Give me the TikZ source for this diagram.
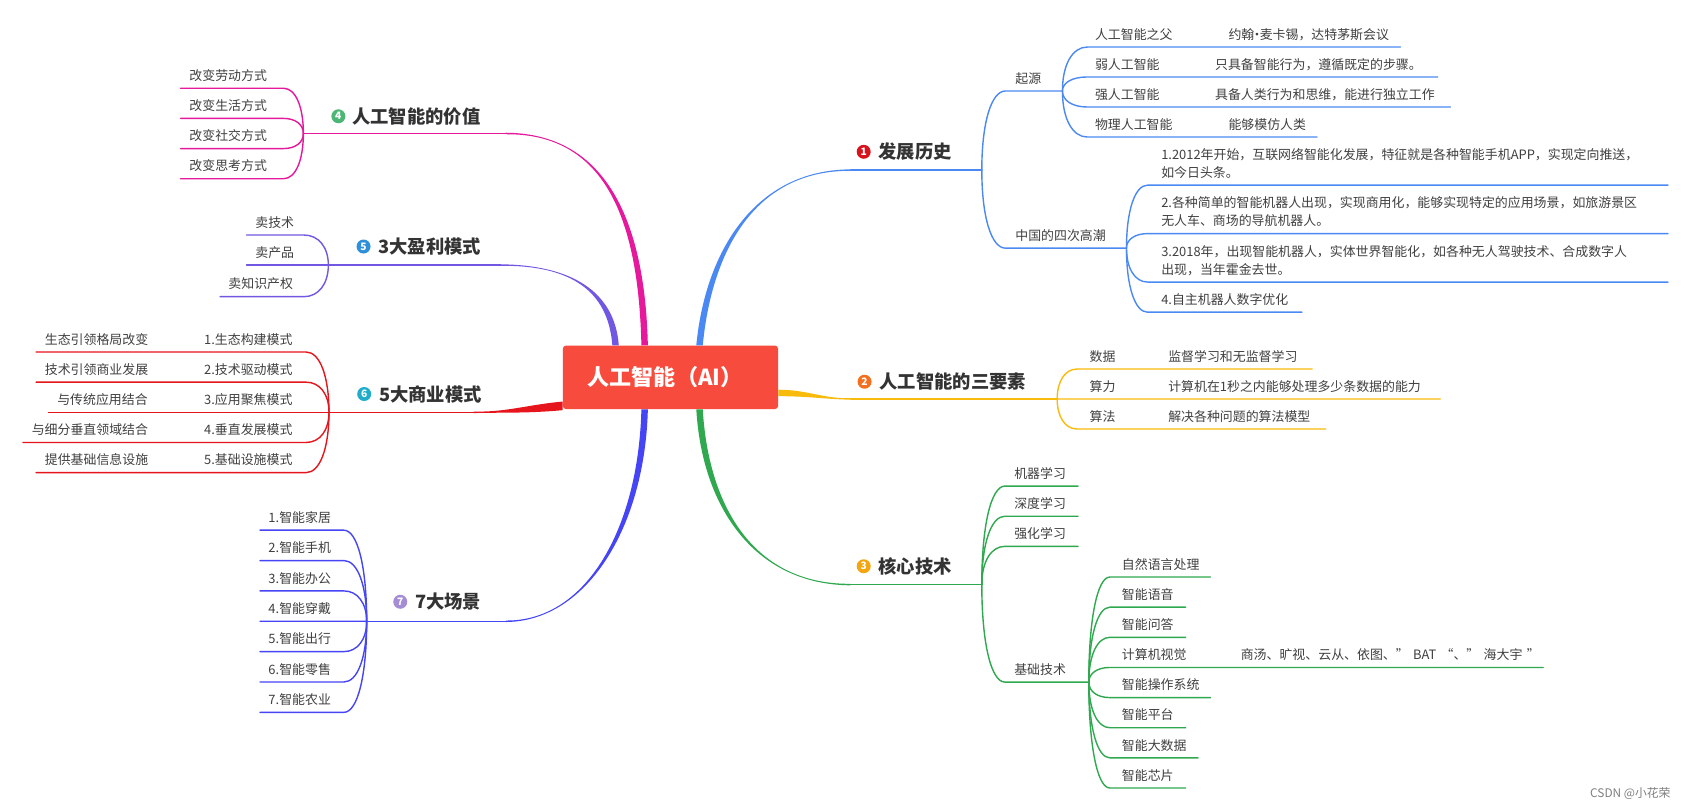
\documentclass[tikz,border=0pt]{standalone}
\usepackage{fontspec}
\setmainfont{Noto Sans CJK SC}
\usetikzlibrary{positioning,calc}
\definecolor{rootred}{HTML}{F74C3D}
\definecolor{ink}{HTML}{404040}
\definecolor{head}{HTML}{333333}
\definecolor{b1}{HTML}{4A89F3}
\definecolor{b2}{HTML}{F9BB0B}
\definecolor{b3}{HTML}{2FA84F}
\definecolor{b4}{HTML}{E6189B}
\definecolor{b5}{HTML}{7257E3}
\definecolor{b6}{HTML}{E6151B}
\definecolor{b7}{HTML}{4545F5}
\definecolor{n1}{HTML}{D7141E}
\definecolor{n2}{HTML}{F37021}
\definecolor{n3}{HTML}{F5A510}
\definecolor{n4}{HTML}{4CB774}
\definecolor{n5}{HTML}{2E90DB}
\definecolor{n6}{HTML}{20ADCB}
\definecolor{n7}{HTML}{A58DD6}
% tapered main branch: colour, start, start offset, control 1, control 2, end, end offset
\newcommand\taper[7]{%
  \fill[#1] ($#2+#3$) .. controls ($#4+#3$) and #5 .. ($#6+#7$) -- ($#6-#7$) .. controls #5 and ($#4-#3$) .. ($#2-#3$) -- cycle;}
% child curve from a fork to a node, then its underline
\newcommand\kid[5]{%
  \draw[#1] (#2) .. controls ($(#2)!.6!(#2|-#3.south #4)$) and ($(#3.south #4)!.6!(#2|-#3.south #4)$) .. (#3.south #4) -- (#3.south #5);}

\begin{document}
\begin{tikzpicture}[x=1pt, y=-1pt,
    root/.style={fill=rootred, text=white, rounded corners=3pt, minimum width=200pt, minimum height=59pt, inner sep=0pt, font=\bfseries\fontsize{20.5}{24}\selectfont},
    topic/.style={anchor=west, inner sep=0pt, text=head, font=\bfseries\fontsize{17}{20}\selectfont},
    num/.style={circle, fill=#1, text=white, minimum size=13pt, inner sep=0pt, font=\bfseries\fontsize{9.5}{9.5}\selectfont},
    leaf/.style={anchor=south west, text width=#1, align=left, inner sep=0pt, text depth=7pt, text=ink, font=\fontsize{12}{17}\selectfont},
    twoline/.style={text depth=24pt},
    l1/.style={draw=b1, line width=1.3pt, line cap=round},
    l2/.style={draw=b2, line width=1.3pt, line cap=round},
    l3/.style={draw=b3, line width=1.3pt, line cap=round},
    l4/.style={draw=b4, line width=1.3pt, line cap=round},
    l5/.style={draw=b5, line width=1.3pt, line cap=round},
    l6/.style={draw=b6, line width=1.3pt, line cap=round},
    l7/.style={draw=b7, line width=1.3pt, line cap=round}
]
\useasboundingbox (0,0) rectangle (1568,752);
\fill[white] (0,0) rectangle (1568,752);

\node[root] (ai) at (622.8,350.5) {人工智能（AI）\hspace*{10pt}};

% 1 发展历史
\coordinate (s1) at ($(ai.north)+(27,0)$);
\coordinate (e1) at (790,158);
\coordinate (f1) at (912,158);
\taper{b1}{(s1)}{(3,0)}{(658,235)}{(700,158)}{(e1)}{(0,0.7)}
\draw[l1] (e1) -- (f1);
\node[topic] (m1) at (816,141) {发展历史};
\node[num=n1, left=7pt of m1] (c1) {1};
\node[leaf=52.5pt] (origin) at (934,84.5) {\hspace*{9pt}起源};
\node[leaf=112pt] (wave) at (934,230.5) {\hspace*{9pt}中国的四次高潮};
\kid{l1}{f1}{origin}{west}{east}
\kid{l1}{f1}{wave}{west}{east}
\node[leaf=290.5pt] (o1) at (1010,43.7) {\hspace*{7pt}\makebox[124pt][l]{人工智能之父}约翰\kern-3.5pt·\kern-3.5pt麦卡锡，达特茅斯会议};
\node[leaf=325pt] (o2) at (1010,71.5) {\hspace*{7pt}\makebox[111.5pt][l]{弱人工智能}只具备智能行为，遵循既定的步骤。};
\node[leaf=337pt] (o3) at (1010,99.4) {\hspace*{7pt}\makebox[111.5pt][l]{强人工智能}具备人类行为和思维，能进行独立工作};
\node[leaf=213pt] (o4) at (1010,127.3) {\hspace*{7pt}\makebox[124pt][l]{物理人工智能}能够模仿人类};
\foreach \k in {o1,o2,o3,o4} {\kid{l1}{origin.south east}{\k}{west}{east}}
\node[leaf=483pt, twoline] (w1) at (1066,172) {\hspace*{12.5pt}1.2012年开始，互联网络智能化发展，特征就是各种智能手机APP，实现定向推送，\\\hspace*{12.5pt}如今日头条。};
\node[leaf=483pt, twoline] (w2) at (1066,217) {\hspace*{12.5pt}2.各种简单的智能机器人出现，实现商用化，能够实现特定的应用场景，如旅游景区\\\hspace*{12.5pt}无人车、商场的导航机器人。};
\node[leaf=483pt, twoline] (w3) at (1066,262) {\hspace*{12.5pt}3.2018年，出现智能机器人，实体世界智能化，如各种无人驾驶技术、合成数字人\\\hspace*{12.5pt}出现，当年霍金去世。};
\node[leaf=143pt] (w4) at (1066,290) {\hspace*{12.5pt}4.自主机器人数字优化};
\foreach \k in {w1,w2,w3,w4} {\kid{l1}{wave.south east}{\k}{west}{east}}

% 2 人工智能的三要素
\coordinate (s2) at ($(ai.east)+(0,14.5)$);
\coordinate (e2) at (790,370.6);
\coordinate (f2) at (982,370.6);
\taper{b2}{(s2)}{(0,3)}{(750,365)}{(765,370.6)}{(e2)}{(0,0.7)}
\draw[l2] (e2) -- (f2);
\node[topic] (m2) at (816.8,354.6) {人工智能的三要素};
\node[num=n2, left=7pt of m2] (c2) {2};
\node[leaf=218pt] (d1) at (1000.5,342.8) {\hspace*{11.5pt}\makebox[73pt][l]{数据}监督学习和无监督学习};
\node[leaf=337pt] (d2) at (1000.5,370.6) {\hspace*{11.5pt}\makebox[73pt][l]{算力}计算机在1秒之内能够处理多少条数据的能力};
\node[leaf=230.5pt] (d3) at (1000.5,398.5) {\hspace*{11.5pt}\makebox[73pt][l]{算法}解决各种问题的算法模型};
\foreach \k in {d1,d2,d3} {\kid{l2}{f2}{\k}{west}{east}}

% 3 核心技术
\coordinate (s3) at ($(ai.south)+(27,0)$);
\coordinate (e3) at (790,543);
\coordinate (f3) at (912,543);
\taper{b3}{(s3)}{(3,0)}{(655,470)}{(700,543)}{(e3)}{(0,-0.7)}
\draw[l3] (e3) -- (f3);
\node[topic] (m3) at (816,526) {核心技术};
\node[num=n3, left=7pt of m3] (c3) {3};
\node[leaf=67.5pt] (g1) at (933.5,451.5) {\hspace*{8.5pt}机器学习};
\node[leaf=67.5pt] (g2) at (933.5,479.5) {\hspace*{8.5pt}深度学习};
\node[leaf=67.5pt] (g3) at (933.5,507.5) {\hspace*{8.5pt}强化学习};
\node[leaf=77.5pt] (g4) at (933.5,633.6) {\hspace*{8.5pt}基础技术};
\foreach \k in {g1,g2,g3,g4} {\kid{l3}{f3}{\k}{west}{east}}
\node[leaf=93pt] (k1) at (1031,536) {\hspace*{11pt}自然语言处理};
\node[leaf=70pt] (k2) at (1031,564) {\hspace*{11pt}智能语音};
\node[leaf=70pt] (k3) at (1031,592) {\hspace*{11pt}智能问答};
\node[leaf=402pt] (k4) at (1031,620) {\hspace*{11pt}\makebox[110.4pt][l]{计算机视觉}商汤、旷视、云从、依图、” BAT “、” 海大宇 ”};
\node[leaf=93pt] (k5) at (1031,648) {\hspace*{11pt}智能操作系统};
\node[leaf=70pt] (k6) at (1031,676) {\hspace*{11pt}智能平台};
\node[leaf=81.5pt] (k7) at (1031,704) {\hspace*{11pt}智能大数据};
\node[leaf=70pt] (k8) at (1031,732) {\hspace*{11pt}智能芯片};
\foreach \k in {k1,k2,k3,k4,k5,k6,k7,k8} {\kid{l3}{g4.south east}{\k}{west}{east}}

% 4 人工智能的价值
\coordinate (s4) at ($(ai.north)+(-24,0)$);
\coordinate (e4) at (470,124);
\coordinate (f4) at (281.8,124);
\taper{b4}{(s4)}{(3,0)}{(596,200)}{(560,124)}{(e4)}{(0,-0.7)}
\draw[l4] (e4) -- (f4);
\node[topic] (m4) at (327,108) {人工智能的价值};
\node[num=n4, left=6pt of m4] (c4) {4};
\node[leaf=95.2pt] (v1) at (167.8,82) {\hspace*{8pt}改变劳动方式};
\node[leaf=95.2pt] (v2) at (167.8,110) {\hspace*{8pt}改变生活方式};
\node[leaf=95.2pt] (v3) at (167.8,138) {\hspace*{8pt}改变社交方式};
\node[leaf=95.2pt] (v4) at (167.8,166) {\hspace*{8pt}改变思考方式};
\foreach \k in {v1,v2,v3,v4} {\kid{l4}{f4}{\k}{east}{west}}

% 5 3大盈利模式
\coordinate (s5) at ($(ai.north)+(-51,0)$);
\coordinate (e5) at (465,246.2);
\coordinate (f5) at (305,246.2);
\taper{b5}{(s5)}{(3,0)}{(568,270)}{(530,246.2)}{(e5)}{(0,-0.7)}
\draw[l5] (e5) -- (f5);
\node[topic] (m5) at (351.4,229) {3大盈利模式};
\node[num=n5, left=7pt of m5] (c5) {5};
\node[leaf=52.8pt] (p1) at (229,218.3) {\hspace*{8pt}卖技术};
\node[leaf=76pt] (p2) at (229,246.2) {\hspace*{8pt}卖产品};
\node[leaf=77.4pt] (p3) at (204.4,275.6) {\hspace*{7.6pt}卖知识产权};
\foreach \k in {p1,p2,p3} {\kid{l5}{f5}{\k}{east}{west}}

% 6 5大商业模式
\coordinate (s6) at ($(ai.west)+(0,26.5)$);
\coordinate (e6) at (440,383);
\coordinate (f6) at (305.6,383);
\taper{b6}{(s6)}{(0,4)}{(490,380)}{(470,383)}{(e6)}{(0,0.7)}
\draw[l6] (e6) -- (f6);
\node[topic] (m6) at (352,366) {5大商业模式};
\node[num=n6, left=7pt of m6] (c6) {6};
\node[leaf=250.5pt] (r1) at (33.5,327) {\hspace*{8pt}\makebox[148pt][l]{生态引领格局改变}1.生态构建模式};
\node[leaf=250.5pt] (r2) at (33.5,355) {\hspace*{8pt}\makebox[148pt][l]{技术引领商业发展}2.技术驱动模式};
\node[leaf=239pt] (r3) at (45,383) {\hspace*{8pt}\makebox[136.5pt][l]{与传统应用结合}3.应用聚焦模式};
\node[leaf=262.7pt] (r4) at (21.3,411) {\hspace*{8pt}\makebox[160.2pt][l]{与细分垂直领域结合}4.垂直发展模式};
\node[leaf=250.5pt] (r5) at (33.5,439) {\hspace*{8pt}\makebox[148pt][l]{提供基础信息设施}5.基础设施模式};
\foreach \k in {r1,r2,r3,r4,r5} {\kid{l6}{f6}{\k}{east}{west}}

% 7 7大场景
\coordinate (s7) at ($(ai.south)+(-24,0)$);
\coordinate (e7) at (470,577.1);
\coordinate (f7) at (340.6,577.1);
\taper{b7}{(s7)}{(3,0)}{(596,490)}{(545,577.1)}{(e7)}{(0,0.7)}
\draw[l7] (e7) -- (f7);
\node[topic] (m7) at (385.5,559) {7大场景};
\node[num=n7, left=7pt of m7] (c7) {7};
\node[leaf=77.5pt] (z1) at (241.5,492.5) {\hspace*{7.7pt}1.智能家居};
\node[leaf=77.5pt] (z2) at (241.5,520.7) {\hspace*{7.7pt}2.智能手机};
\node[leaf=77.5pt] (z3) at (241.5,548.9) {\hspace*{7.7pt}3.智能办公};
\node[leaf=77.5pt] (z4) at (241.5,577.1) {\hspace*{7.7pt}4.智能穿戴};
\node[leaf=77.5pt] (z5) at (241.5,605.3) {\hspace*{7.7pt}5.智能出行};
\node[leaf=77.5pt] (z6) at (241.5,633.5) {\hspace*{7.7pt}6.智能零售};
\node[leaf=77.5pt] (z7) at (241.5,661.7) {\hspace*{7.7pt}7.智能农业};
\foreach \k in {z1,z2,z3,z4,z5,z6,z7} {\kid{l7}{f7}{\k}{east}{west}}

\node[anchor=east, inner sep=0pt, text=gray, font=\fontsize{11}{13}\selectfont] (mark) at (1552,737) {CSDN @小花荣};
\end{tikzpicture}
\end{document}
